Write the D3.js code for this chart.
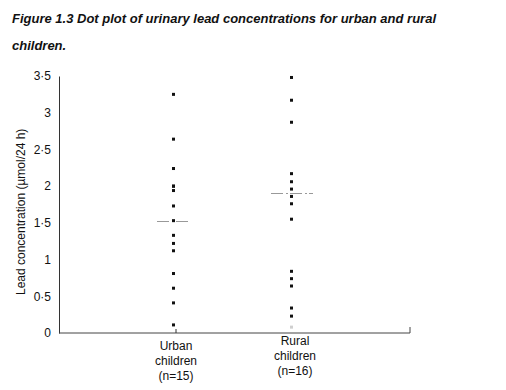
<!DOCTYPE html>
<html>
<head>
<meta charset="utf-8">
<script src="https://cdn.jsdelivr.net/npm/d3@7"></script>
<style>
  body { margin: 0; background: #fff; }
  svg text { font-family: "Liberation Sans", Arial, sans-serif; fill: #111; }
</style>
</head>
<body>
<div class="chart"></div>
<script>
// groups shown along the bottom
var groups = ['urban', 'rural'];
var groupLabels = [['Urban', 'children', '(n=15)'], ['Rural', 'children', '(n=16)']];

// urinary lead (umol/24 h)
var urban = [3.25, 2.64, 2.24, 2.0, 2.0, 1.94, 1.73, 1.53, 1.33, 1.22, 1.12, 0.81, 0.61, 0.41, 0.11];
var rural = [3.48, 3.17, 2.87, 2.17, 2.06, 1.96, 1.86, 1.76, 1.55, 0.84, 0.74, 0.64, 0.34, 0.23, 0.08];
var medians = [1.53, 1.91];

var yTicks = [0, 0.5, 1, 1.5, 2, 2.5, 3, 3.5];

var width = 506, height = 390;

var svg = d3.select('.chart')
  .append('svg')
  .attr('width', width)
  .attr('height', height);

// title, two lines
svg.append('text')
  .attr('x', 12).attr('y', 23)
  .style('font-size', '13px')
  .style('font-style', 'italic')
  .style('font-weight', 'bold')
  .text('Figure 1.3 Dot plot of urinary lead concentrations for urban and rural');
svg.append('text')
  .attr('x', 12).attr('y', 50)
  .style('font-size', '13px')
  .style('font-style', 'italic')
  .style('font-weight', 'bold')
  .text('children.');

var xScale = d3.scalePoint()
  .domain(['start'].concat(groups).concat(['end']))
  .range([59, 410]);

var yScale = d3.scaleLinear()
  .domain([0, 3.5])
  .range([333, 76]);

// y axis
var yAxis = svg.append('g')
  .attr('transform', 'translate(59,0)')
  .call(d3.axisLeft(yScale)
    .tickValues(yTicks)
    .tickSize(0)
    .tickPadding(8)
    .tickFormat(d => String(d).replace('.', '·')));
yAxis.select('.domain').attr('stroke', '#333').attr('stroke-width', 1);
yAxis.selectAll('text')
  .style('font-size', '12px')
  .style('font-family', '"Liberation Sans", Arial, sans-serif')
  .attr('fill', '#111');

// baseline
svg.append('line')
  .attr('x1', 59).attr('x2', xScale('end'))
  .attr('y1', yScale(0)).attr('y2', yScale(0))
  .attr('stroke', '#444').attr('stroke-width', 1);
svg.append('line')
  .attr('x1', xScale('end')).attr('x2', xScale('end'))
  .attr('y1', yScale(0)).attr('y2', yScale(0) - 6)
  .attr('stroke', '#444').attr('stroke-width', 1);
svg.append('line')
  .attr('x1', xScale('urban')).attr('x2', xScale('urban'))
  .attr('y1', yScale(0)).attr('y2', yScale(0) - 4)
  .attr('stroke', '#333').attr('stroke-width', 1);

// y label
svg.append('text')
  .attr('transform', 'translate(25,' + yScale(1.65) + ') rotate(-90)')
  .style('text-anchor', 'middle')
  .style('font-size', '12px')
  .text('Lead concentration (µmol/24 h)');

// category labels
groupLabels.forEach(function (lines, i) {
  var top = i === 0 ? 350 : 345;
  lines.forEach(function (t, j) {
    svg.append('text')
      .attr('x', xScale(groups[i]) + (i === 0 ? 0 : 2))
      .attr('y', top + j * 15)
      .style('text-anchor', 'middle')
      .style('font-size', '12px')
      .text(t);
  });
});

// median lines
svg.selectAll('.median')
  .data(medians)
  .enter()
  .append('line')
  .attr('class', 'median')
  .attr('x1', (d, i) => xScale(groups[i]) - (i === 0 ? 19 : 22))
  .attr('x2', (d, i) => xScale(groups[i]) + (i === 0 ? 13 : 20))
  .attr('y1', d => Math.round(yScale(d)) + 0.5)
  .attr('y2', d => Math.round(yScale(d)) + 0.5)
  .attr('stroke', '#999')
  .attr('stroke-width', 1)
  .attr('stroke-dasharray', '12,3,2,2');

// dots (the lowest rural one is only faintly printed)
var series = [urban, rural];
series.forEach(function (vals, i) {
  svg.selectAll('.dot' + i)
    .data(vals)
    .enter()
    .append('rect')
    .attr('class', 'dot' + i)
    .attr('x', xScale(groups[i]) - 4 + (i === 0 ? 0 : 1))
    .attr('y', d => yScale(d) - 1.5)
    .attr('width', 3)
    .attr('height', 3)
    .attr('fill', '#111')
    .attr('opacity', (d, j) => (i === 1 && j === vals.length - 1) ? 0.2 : 1);
});
</script>
</body>
</html>
